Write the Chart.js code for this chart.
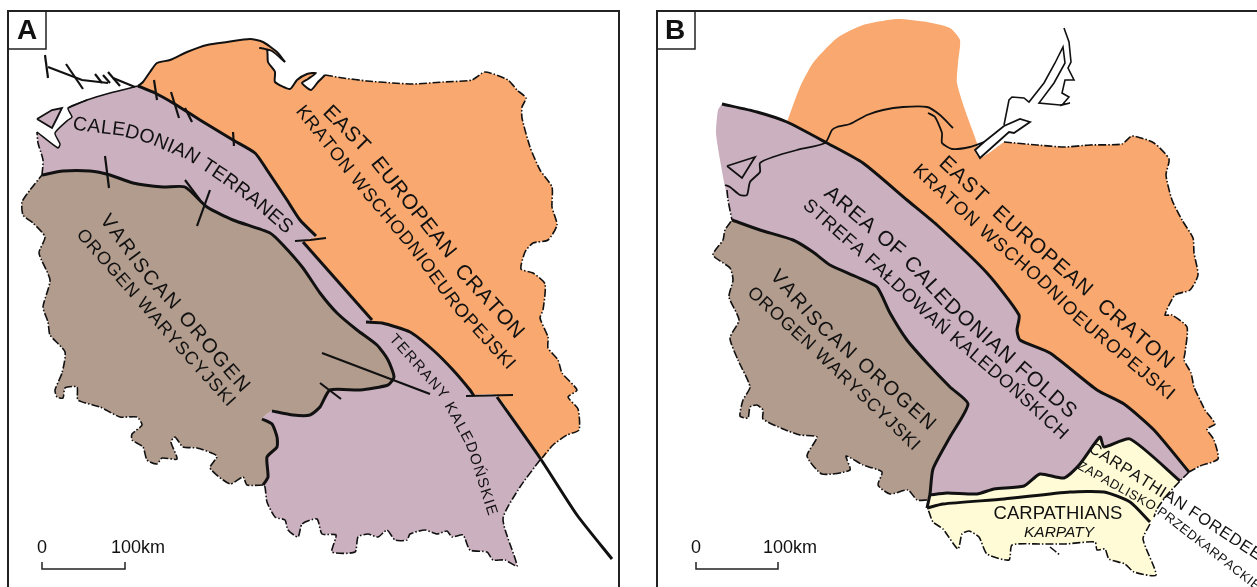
<!DOCTYPE html>
<html>
<head>
<meta charset="utf-8">
<style>
html, body { margin: 0; padding: 0; background: #fff; overflow: hidden; }
canvas { display: block; }
</style>
<script src="https://cdn.jsdelivr.net/npm/chart.js@4"></script>
</head>
<body>
<canvas id="mapChart" width="1257" height="587"></canvas>
<script>
// colours
var ORANGE = '#F9A96F', PURPLE = '#CBB0BF', BROWN = '#B29C8E', YELLOW = '#FFFBD6', INK = '#111';

// ---- map A ----
var aNorthCoast = [[138,86],[143,82],[150,72],[157,63],[170,60],[187,52],[207,45],[227,42],[250,39],[263,42],[277,52],[285,62]];
var aBay = [[285,62],[272,51],[260,48],[267,50],[268,62],[275,72],[275,82],[290,89],[297,80],[307,74],[316,73],[308,79],[302,83],[311,90],[318,82],[325,75]];
var aEastBorder = [[325,75],[343,78],[367,81],[393,83],[413,84],[443,82],[472,80],[485,72],[508,80],[517,90],[526,98],[522,107],[522,118],[530,147],[540,170],[552,187],[552,207],[557,225],[548,240],[533,243],[525,252],[521,269],[533,273],[545,284],[543,310],[540,318],[548,337],[548,348],[558,360],[562,373],[577,390],[568,397],[578,409],[579,430],[567,435],[553,445],[542,458]];
var aFaultUpper = [[138,86],[155,93],[173,103],[200,120],[233,140],[255,153],[267,170],[287,200],[300,220],[316,236]];
var aFaultMiddle = [[303,242],[372,320]];
var aFaultCurve = [[366,322],[382,323],[410,332],[433,350],[453,370],[470,390],[474,396]];
var aFaultLower = [[497,397],[540,458],[577,515],[612,559]];
var aSouthBorder = [[540,460],[520,487],[503,519],[517,566],[505,560],[493,560],[487,552],[470,550],[463,535],[452,537],[447,531],[437,534],[425,530],[410,534],[407,540],[395,540],[387,530],[378,537],[368,534],[358,537],[355,552],[332,552],[336,535],[322,534],[317,519],[302,524],[298,537],[288,530],[285,520],[275,517],[267,502],[265,487],[263,485]];
var aInnerBoundary = [[263,485],[268,477],[267,457],[277,447],[277,437],[272,424],[262,419]];
var aVariscanEdge = [[42,175],[63,171],[90,171],[110,175],[133,183],[163,187],[185,187],[207,207],[233,220],[270,233],[283,245],[303,268],[320,293],[337,313],[357,330],[377,345],[388,360],[394,377],[388,385],[360,390],[330,390],[320,407],[310,415],[293,415],[272,411]];
var aWestBorder = [[263,485],[247,485],[243,477],[230,484],[210,468],[217,456],[197,448],[183,447],[175,437],[171,442],[177,459],[162,458],[157,464],[147,460],[143,447],[132,440],[132,434],[142,425],[137,417],[120,417],[100,407],[78,400],[77,387],[65,388],[63,398],[57,397],[55,390],[62,373],[65,352],[50,335],[48,322],[43,307],[50,280],[39,253],[45,237],[33,223],[23,215],[22,202],[30,190],[42,175]];
var aNorthWest = [[42,175],[43,160],[38,143],[37,132]];
var aInlet = [[37,132],[58,148],[60,144],[55,133],[68,120],[72,117],[68,108],[87,100],[110,93],[138,86]];
var aIsland = [[37,119],[52,110],[62,108],[52,128],[37,119]];
var aTicks = [
  [[45,55],[48,78]], [[48,67],[82,80],[108,83]], [[66,64],[83,89]], [[95,74],[102,83]],
  [[103,75],[110,83]], [[108,72],[120,86]], [[113,78],[135,87]], [[154,80],[157,100]],
  [[171,92],[179,118]], [[185,108],[192,122]], [[233,132],[234,146]], [[105,156],[109,188]],
  [[185,180],[200,200]], [[210,190],[197,226]], [[295,241],[310,240],[326,238]],
  [[466,396],[513,395]], [[322,353],[430,394]], [[320,383],[341,399]]
];

// ---- map B ----
var bBlob = [[787,122],[800,87],[813,63],[837,38],[863,25],[897,19],[927,22],[950,28],[960,40],[958,63],[957,83],[965,110],[977,143],[980,158],[1004,142]];
var bEastBorder = [[1004,142],[1037,145],[1064,147],[1090,145],[1122,144],[1132,136],[1154,143],[1169,159],[1166,175],[1172,200],[1182,220],[1193,238],[1194,253],[1198,275],[1190,290],[1175,295],[1165,315],[1172,315],[1187,327],[1185,353],[1184,360],[1191,373],[1194,387],[1200,400],[1205,410],[1215,424],[1207,429],[1214,440],[1218,459],[1200,466],[1189,472]];
var bFault = [[722,104],[757,112],[787,122],[827,143],[863,163],[907,200],[937,225],[987,273],[1019,315],[1017,330],[1020,340],[1050,353],[1097,390],[1124,404],[1154,430],[1189,472]];
var bPurpleWest = [[722,104],[718,110],[716,133],[720,160],[725,187],[728,200]];
var bWestDash = [[727,190],[728,200],[732,220]];
var bVariscanEdge = [[732,220],[760,230],[793,240],[813,252],[830,265],[857,277],[877,287],[890,313],[907,340],[927,363],[950,387],[968,404],[950,437],[933,469],[930,494],[927,508]];
var bWestBorder = [[927,500],[917,500],[908,490],[890,494],[878,485],[882,472],[863,465],[846,456],[850,470],[822,474],[807,456],[817,437],[800,435],[783,429],[763,419],[763,410],[757,405],[750,407],[748,418],[740,416],[743,400],[750,387],[738,360],[730,338],[739,320],[729,297],[733,280],[730,268],[713,255],[723,240],[725,230],[732,220]];
var bForedeepTop = [[930,495],[947,493],[977,494],[994,489],[1024,486],[1040,474],[1064,478],[1080,464],[1100,437],[1104,447],[1130,439],[1180,481]];
var bThrust = [[927,508],[943,504],[1004,499],[1070,492],[1104,492],[1130,502],[1150,522]];
var bForedeepEnd = [[1189,472],[1180,481],[1167,495],[1157,509],[1154,517]];
var bCarpathBorder = [[1150,524],[1143,539],[1156,575],[1134,572],[1125,564],[1109,559],[1105,549],[1097,550],[1095,542],[1065,544],[1040,544],[1012,545],[1009,560],[987,554],[979,537],[969,531],[962,534],[958,549],[943,529],[933,522],[928,509]];
var bCarpathStub = [[1050,547],[1060,555]];
var bCoast = [[725,185],[730,187],[740,195],[747,195],[750,182],[760,172],[760,163],[773,157],[797,150],[825,143],[832,130],[837,127],[850,124],[867,115],[883,110],[903,107],[927,107],[940,115],[953,128]];
var bBay = [[928,113],[935,117],[942,133],[942,143],[952,149],[970,147],[984,142]];
var bIsland = [[727,166],[755,157],[742,178],[727,166]];
var bLagoon = [[984,142],[975,150],[980,158],[1009,132],[1014,133],[1030,122],[1020,119],[1004,126],[984,142]];
var bGulf = [[1004,125],[1009,100],[1012,97],[1024,98],[1029,102],[1044,83],[1055,63],[1063,47],[1065,63],[1054,83],[1039,103],[1060,105],[1070,103],[1062,105],[1069,97],[1062,93],[1065,80],[1074,80],[1068,68],[1071,62],[1069,42],[1064,28]];

// ---- frames and scale bars ----
var frameA = [[8,600],[8,11],[619,11],[619,600]];
var frameB = [[657,600],[657,11],[1270,11]];
var tagA = [[8,49],[46,49],[46,11]];
var tagB = [[657,49],[695,49],[695,11]];
var scaleA = [[42,562],[42,569],[125,569],[125,562]];
var scaleB = [[696,562],[696,569],[778,569],[778,562]];

// ---- text ----
var curvedLabels = [
  ['CALEDONIAN TERRANES', 19.5, '', [[80,125],[120,130],[150,138],[190,155],[225,178],[255,200],[285,226]]],
  ['EAST  EUROPEAN  CRATON', 21, '', [[331,114],[367,150],[447,250],[463,273],[515,330]]],
  ['KRATON WSCHODNIOEUROPEJSKI', 18.5, '', [[303,113],[363,188],[413,247],[457,307],[510,365]]],
  ['VARISCAN OROGEN', 20, '', [[108,222],[147,275],[173,303],[185,318],[220,360],[241,384]]],
  ['OROGEN WARYSCYJSKI', 18, '', [[84,237],[137,297],[180,347],[230,402]]],
  ['TERRANY KALEDOŃSKIE', 15, '', [[395,340],[442,393],[470,444],[491,510]]],
  ['EAST  EUROPEAN  CRATON', 21, '', [[947,165],[1004,218],[1084,288],[1104,307],[1165,360]]],
  ['KRATON WSCHODNIOEUROPEJSKI', 18.5, '', [[920,172],[990,237],[1044,283],[1077,317],[1140,370],[1170,395]]],
  ['AREA OF CALEDONIAN FOLDS', 21, '', [[832,195],[900,252],[947,303],[1019,367],[1068,410]]],
  ['STREFA FAŁDOWAŃ KALEDOŃSKICH', 18.5, '', [[810,207],[870,260],[937,323],[1007,383],[1060,432]]],
  ['VARISCAN OROGEN', 20, '', [[778,278],[817,323],[850,353],[927,422]]],
  ['OROGEN WARYSCYJSKI', 18, '', [[755,295],[810,345],[915,446]]],
  ['CARPATHIAN FOREDEEP', 16.5, '', [[1095,450],[1180,504],[1195,514],[1265,560]]],
  ['ZAPADLISKO PRZEDKARPACKIE', 13, '', [[1082,467],[1150,505],[1165,515],[1255,585]]]
];
var flatLabels = [
  ['A', 27, 31, 'bold 28px'],
  ['B', 675, 31, 'bold 28px'],
  ['0', 42, 548, '18px'],
  ['100km', 138, 548, '18px'],
  ['0', 696, 548, '18px'],
  ['100km', 790, 548, '18px'],
  ['CARPATHIANS', 1058, 514, '18.5px'],
  ['KARPATY', 1059, 533, 'italic 15.5px']
];

var FONT = '"Liberation Sans", Arial, sans-serif';

// letters spread along a polyline, the listed points are the text's centre line
var textPlugin = {
  id: 'mapText',
  afterDatasetsDraw: function (chart) {
    var ctx = chart.ctx, sx = chart.scales.x, sy = chart.scales.y;
    ctx.save();
    ctx.fillStyle = INK;
    ctx.textBaseline = 'middle';
    ctx.textAlign = 'center';

    flatLabels.forEach(function (l) {
      ctx.font = l[3] + ' ' + FONT;
      ctx.fillText(l[0], sx.getPixelForValue(l[1]), sy.getPixelForValue(l[2]));
    });

    curvedLabels.forEach(function (l) {
      var pts = l[3].map(function (p) { return [sx.getPixelForValue(p[0]), sy.getPixelForValue(p[1])]; });
      var lens = [], total = 0;
      for (var i = 1; i < pts.length; i++) {
        var d = Math.hypot(pts[i][0] - pts[i-1][0], pts[i][1] - pts[i-1][1]);
        lens.push(d);
        total += d;
      }
      ctx.font = l[2] + ' ' + l[1] + 'px ' + FONT;
      var chars = Array.from(l[0]);
      var widths = chars.map(function (c) { return ctx.measureText(c).width; });
      var natural = widths.reduce(function (a, b) { return a + b; }, 0);
      var extra = (total - natural + (widths[0] + widths[widths.length-1]) / 2) / (chars.length - 1);
      var s = 0;
      chars.forEach(function (c, n) {
        var seg = 0, rest = s;
        while (seg < lens.length - 1 && rest > lens[seg]) { rest -= lens[seg]; seg++; }
        var a = Math.atan2(pts[seg+1][1] - pts[seg][1], pts[seg+1][0] - pts[seg][0]);
        ctx.save();
        ctx.translate(pts[seg][0] + rest * Math.cos(a), pts[seg][1] + rest * Math.sin(a));
        ctx.rotate(a);
        ctx.fillText(c, 0, 0);
        ctx.restore();
        if (n < chars.length - 1) s += (widths[n] + widths[n+1]) / 2 + extra;
      });
    });
    ctx.restore();
  }
};

var CURVE = 0.2;

function area(points, colour) {
  return { data: points, showLine: true, fill: 'shape', backgroundColor: colour, borderWidth: 0, pointRadius: 0, tension: CURVE };
}
function line(points, width, colour, tension) {
  return { data: points, showLine: true, fill: false, borderColor: colour || INK, borderWidth: width, pointRadius: 0, tension: tension === undefined ? CURVE : tension, borderCapStyle: 'butt' };
}
function dashed(points) {
  var d = line(points, 1.6);
  d.borderDash = [8, 2, 1.5, 2];
  return d;
}

// paint order, bottom first
var layers = [
  area([].concat(aNorthCoast, aBay, aEastBorder, [[497,396],[473,395]], aFaultCurve.slice().reverse(), aFaultMiddle.slice().reverse(), aFaultUpper.slice().reverse()), ORANGE),
  area([].concat(aInlet, aFaultUpper, aFaultMiddle, aFaultCurve, [[497,397],[540,458]], aSouthBorder, aInnerBoundary, aVariscanEdge.slice().reverse(), aNorthWest), PURPLE),
  area([].concat(aVariscanEdge, aInnerBoundary.slice().reverse(), aWestBorder), BROWN),
  area(aIsland, PURPLE),
  line(aNorthCoast, 2), line(aBay, 2), dashed(aEastBorder), dashed(aSouthBorder), dashed(aWestBorder), dashed(aNorthWest),
  line(aInlet.slice(0, 8), 1.5), line(aInlet.slice(6), 1.5), line(aIsland, 1.8, INK, 0),
  line(aFaultUpper, 3), line(aFaultMiddle, 3), line(aFaultCurve, 3), line(aFaultLower, 3), line(aVariscanEdge, 3), line(aInnerBoundary, 3)
];
aTicks.forEach(function (t) { layers.push(line(t, 2.2, INK, 0)); });

layers = layers.concat([
  area([].concat(bBlob, bEastBorder, bFault.slice().reverse()), ORANGE),
  area([].concat(bPurpleWest.slice().reverse(), bFault, [[1180,481]], bForedeepTop.slice().reverse(), [[927,508]], bVariscanEdge.slice().reverse()), PURPLE),
  area([].concat(bVariscanEdge.slice(0, -1), bWestBorder), BROWN),
  area([].concat(bForedeepTop, bForedeepEnd.slice(1), bCarpathBorder), YELLOW),
  area(bLagoon, '#fff'),
  dashed(bEastBorder), dashed(bWestBorder), dashed(bWestDash), dashed(bForedeepEnd), dashed(bCarpathBorder), dashed(bCarpathStub),
  line(bCoast, 1.8), line(bBay, 1.8), line(bIsland, 1.8, INK, 0), line(bLagoon, 1.8, INK, 0), line(bGulf, 1.6, INK, 0),
  line(bFault, 3), line(bVariscanEdge, 3), line(bForedeepTop, 3), line(bThrust, 3),
  line(frameA, 2, '#222', 0), line(frameB, 2, '#222', 0), line(tagA, 1.5, '#222', 0), line(tagB, 1.5, '#222', 0),
  line(scaleA, 1.5, '#222', 0), line(scaleB, 1.5, '#222', 0)
]);

// chart.js paints the first dataset last
new Chart(document.getElementById('mapChart'), {
  type: 'scatter',
  data: { datasets: layers.slice().reverse() },
  plugins: [textPlugin],
  options: {
    responsive: false,
    animation: false,
    events: [],
    layout: { padding: 0 },
    plugins: { legend: { display: false }, tooltip: { enabled: false }, title: { display: false } },
    scales: {
      x: { type: 'linear', min: 0, max: 1257, display: false },
      y: { type: 'linear', min: 0, max: 587, reverse: true, display: false }
    }
  }
});
</script>
</body>
</html>
